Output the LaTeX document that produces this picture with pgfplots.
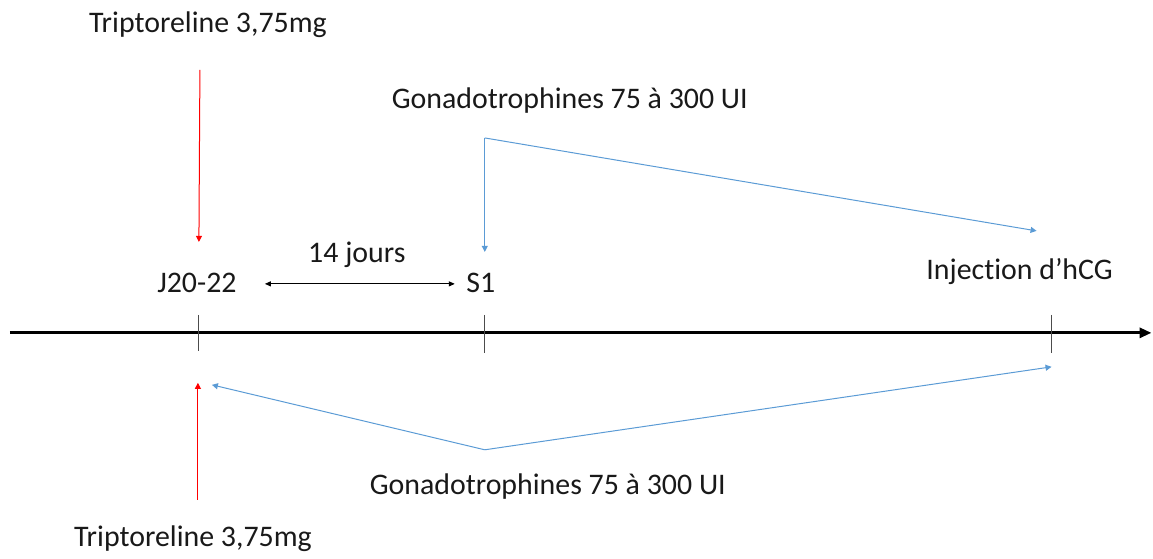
\documentclass[border=0pt]{standalone}
\usepackage{fontspec}
\setmainfont[Ligatures={NoCommon,NoRare,NoContextual}]{Carlito}
\usepackage{pgfplots}
\pgfplotsset{compat=1.18}
\usetikzlibrary{arrows.meta}
\definecolor{lblue}{RGB}{91,155,213}
\definecolor{tred}{RGB}{255,0,0}

\begin{document}
\begin{tikzpicture}[lbl/.style={font=\fontsize{15}{18}\selectfont, text=black!90}]
\begin{axis}[
  scale only axis, width=576.5bp, height=277bp,
  xmin=0, xmax=1153, ymin=0, ymax=554, y dir=reverse,
  hide axis, clip=false
]
% frame for the bounding box
\addplot[draw=none] coordinates {(0,0) (1153,554)};
% time line
\addplot[black, line width=1.5bp, -{Triangle[length=6bp,width=5bp]}] coordinates {(10,333) (1152,333)};
\addplot[black!70, line width=0.4bp] coordinates {(198,315) (198,351)};
\addplot[black!70, line width=0.4bp] coordinates {(485,315) (485,353)};
\addplot[black!70, line width=0.4bp] coordinates {(1052,315) (1052,353)};
% 14 jours
\addplot[black, line width=0.5bp, {Triangle[length=3bp,width=2.5bp]}-{Triangle[length=3bp,width=2.5bp]}] coordinates {(265,284) (455,284)};
% top: triptoreline
\addplot[tred, line width=0.5bp, -{Triangle[length=3bp,width=3bp]}] coordinates {(200,70) (199,242)};
% top: gonadotrophines
\addplot[lblue, line width=0.5bp, -{Triangle[length=3bp,width=3bp]}] coordinates {(485,138) (485,252)};
\addplot[lblue, line width=0.5bp, -{Triangle[length=3bp,width=3bp]}] coordinates {(485,138) (1037,231)};
% bottom: triptoreline
\addplot[tred, line width=0.5bp, -{Triangle[length=3bp,width=3bp]}] coordinates {(198,500) (198,383)};
% bottom: gonadotrophines
\addplot[lblue, line width=0.5bp, -{Triangle[length=3bp,width=3bp]}] coordinates {(485,450) (212,385)};
\addplot[lblue, line width=0.5bp, -{Triangle[length=3bp,width=3bp]}] coordinates {(485,450) (1052,367)};
% labels
\node[lbl] at (axis cs:208,25) {Triptoreline 3,75mg};
\node[lbl] at (axis cs:570,101) {Gonadotrophines 75 à 300 UI};
\node[lbl] at (axis cs:357,255) {14 jours};
\node[lbl] at (axis cs:197,283) {J20-22};
\node[lbl] at (axis cs:481,283) {S1};
\node[lbl] at (axis cs:1020,272) {Injec\kern0pt tion d’hCG};
\node[lbl] at (axis cs:548,487) {Gonadotrophines 75 à 300 UI};
\node[lbl] at (axis cs:193,539) {Triptoreline 3,75mg};
\end{axis}
\end{tikzpicture}
\end{document}
